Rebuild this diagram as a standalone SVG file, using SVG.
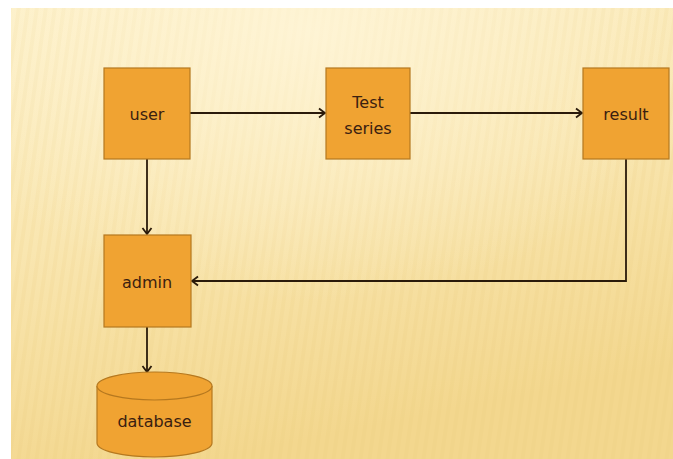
<svg xmlns="http://www.w3.org/2000/svg" width="673" height="459" viewBox="0 0 673 459">
<style>
.box{fill:#f0a332;stroke:#b5781f;stroke-width:1.2}
.lbl{font-family:"DejaVu Sans","Liberation Sans",sans-serif;font-size:16px;fill:#3a2010;text-anchor:middle}
.con{fill:none;stroke:#2a1a0a;stroke-width:1.8}
</style>
<defs>
<linearGradient id="bg" x1="0" y1="0" x2="0.3" y2="1">
<stop offset="0" stop-color="#fdf0c8"/>
<stop offset="0.5" stop-color="#f9e6b0"/>
<stop offset="1" stop-color="#f3d78e"/>
</linearGradient>
<radialGradient id="glow" cx="0.45" cy="0.05" r="0.6">
<stop offset="0" stop-color="#fff6da" stop-opacity="0.8"/>
<stop offset="1" stop-color="#fff6da" stop-opacity="0"/>
</radialGradient>
<pattern id="stripes" width="9" height="459" patternUnits="userSpaceOnUse" patternTransform="skewX(-8)">
<rect x="0" y="0" width="4" height="459" fill="#e8c878" opacity="0.12"/>
</pattern>
<marker id="arr" markerWidth="12" markerHeight="12" refX="9" refY="6" orient="auto" markerUnits="userSpaceOnUse">
<polyline points="3,1.5 9,6 3,10.5" fill="none" stroke="#2a1a0a" stroke-width="1.8"/>
</marker>
</defs>
<rect x="0" y="0" width="673" height="459" fill="#ffffff"/>
<rect x="11" y="8" width="662" height="451" fill="url(#bg)"/>
<rect x="11" y="8" width="662" height="451" fill="url(#stripes)"/>
<rect x="11" y="8" width="662" height="451" fill="url(#glow)"/>
<g id="connectors">
<line class="con" x1="190" y1="113" x2="325" y2="113" marker-end="url(#arr)"/>
<line class="con" x1="410" y1="113" x2="582" y2="113" marker-end="url(#arr)"/>
<line class="con" x1="147" y1="159" x2="147" y2="234" marker-end="url(#arr)"/>
<polyline class="con" points="626,159 626,281 192,281" marker-end="url(#arr)"/>
<line class="con" x1="147" y1="327" x2="147" y2="372" marker-end="url(#arr)"/>
</g>
<g id="user">
<rect class="box" x="104" y="68" width="86" height="91"/>
<text class="lbl" x="147" y="120">user</text>
</g>
<g id="test-series">
<rect class="box" x="326" y="68" width="84" height="91"/>
<text class="lbl" x="368" y="108">Test</text>
<text class="lbl" x="368" y="134">series</text>
</g>
<g id="result">
<rect class="box" x="583" y="68" width="86" height="91"/>
<text class="lbl" x="626" y="120">result</text>
</g>
<g id="admin">
<rect class="box" x="104" y="235" width="87" height="92"/>
<text class="lbl" x="147" y="288">admin</text>
</g>
<g id="database">
<path class="box" d="M97,386 L97,443 A57.5,14 0 0 0 212,443 L212,386"/>
<ellipse class="box" cx="154.5" cy="386" rx="57.5" ry="14"/>
<text class="lbl" x="154.5" y="427">database</text>
</g>
</svg>
